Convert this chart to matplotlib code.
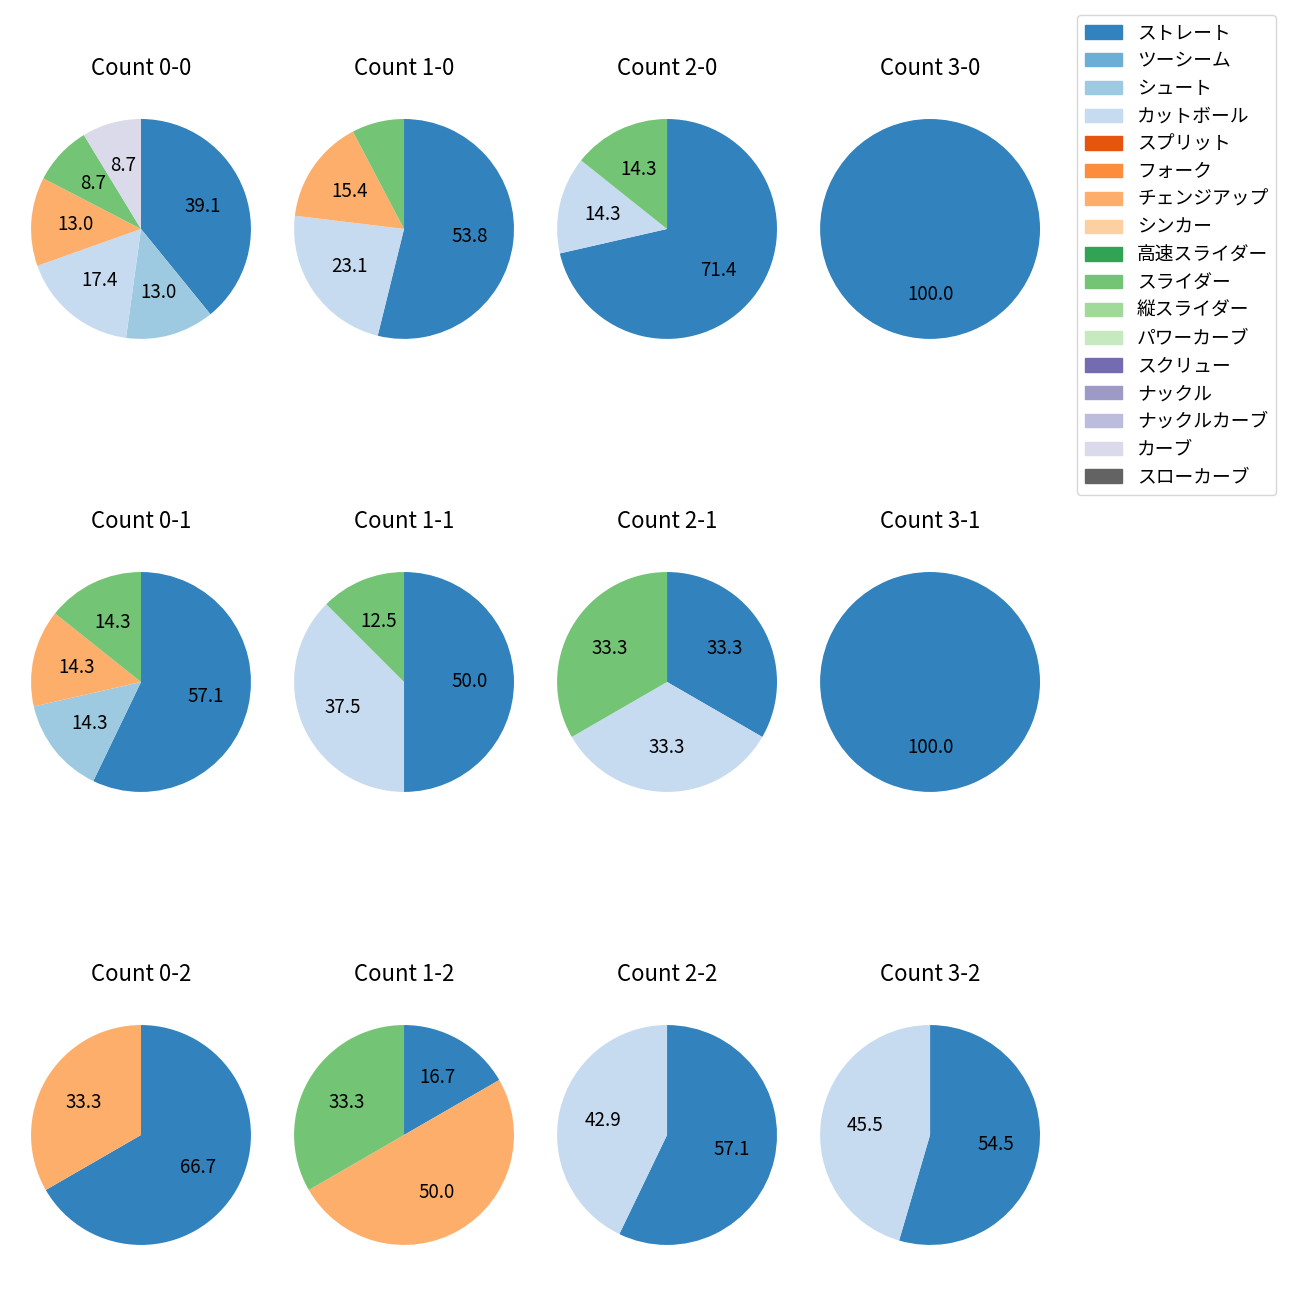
import numpy as np
import matplotlib.pyplot as plt
from matplotlib.patches import Patch

plt.rcParams['font.family'] = ['Noto Sans CJK JP', 'DejaVu Sans']

pitch_types = ['ストレート', 'ツーシーム', 'シュート', 'カットボール', 'スプリット', 'フォーク',
               'チェンジアップ', 'シンカー', '高速スライダー', 'スライダー', '縦スライダー',
               'パワーカーブ', 'スクリュー', 'ナックル', 'ナックルカーブ', 'カーブ', 'スローカーブ']

# pitch counts per ball-strike count, in pitch_types order
counts = {
    '0-0': [9, 0, 3, 4, 0, 0, 3, 0, 0, 2, 0, 0, 0, 0, 0, 2, 0],
    '1-0': [7, 0, 0, 3, 0, 0, 2, 0, 0, 1, 0, 0, 0, 0, 0, 0, 0],
    '2-0': [5, 0, 0, 1, 0, 0, 0, 0, 0, 1, 0, 0, 0, 0, 0, 0, 0],
    '3-0': [1, 0, 0, 0, 0, 0, 0, 0, 0, 0, 0, 0, 0, 0, 0, 0, 0],
    '0-1': [4, 0, 1, 0, 0, 0, 1, 0, 0, 1, 0, 0, 0, 0, 0, 0, 0],
    '1-1': [4, 0, 0, 3, 0, 0, 0, 0, 0, 1, 0, 0, 0, 0, 0, 0, 0],
    '2-1': [1, 0, 0, 1, 0, 0, 0, 0, 0, 1, 0, 0, 0, 0, 0, 0, 0],
    '3-1': [1, 0, 0, 0, 0, 0, 0, 0, 0, 0, 0, 0, 0, 0, 0, 0, 0],
    '0-2': [2, 0, 0, 0, 0, 0, 1, 0, 0, 0, 0, 0, 0, 0, 0, 0, 0],
    '1-2': [1, 0, 0, 0, 0, 0, 3, 0, 0, 2, 0, 0, 0, 0, 0, 0, 0],
    '2-2': [4, 0, 0, 3, 0, 0, 0, 0, 0, 0, 0, 0, 0, 0, 0, 0, 0],
    '3-2': [6, 0, 0, 5, 0, 0, 0, 0, 0, 0, 0, 0, 0, 0, 0, 0, 0],
}
order = ['0-0', '1-0', '2-0', '3-0',
         '0-1', '1-1', '2-1', '3-1',
         '0-2', '1-2', '2-2', '3-2']

colors = plt.get_cmap('tab20c').colors[:len(pitch_types)]

fig, axes = plt.subplots(3, 4, figsize=(13, 13), dpi=100)
fig.subplots_adjust(left=0.0027, right=0.8212, top=0.9296, bottom=0.0212,
                    wspace=-0.0435, hspace=0.648)

for ax, key in zip(axes.flat, order):
    vals = np.array(counts[key])
    idx = np.nonzero(vals)[0]
    ax.pie(vals[idx], colors=[colors[i] for i in idx], startangle=90,
           counterclock=False,
           autopct=lambda p: f'{p:.1f}' if p >= 8 else '',
           textprops={'fontsize': 13.5})
    ax.set_title(f'Count {key}', fontsize=16, pad=12)

handles = [Patch(color=c) for c in colors]
fig.legend(handles, pitch_types, loc='upper left',
           bbox_to_anchor=(1077 / 1300, 1 - 15 / 1300), borderaxespad=0,
           fontsize=13.5, labelspacing=0.36)

fig.savefig('out.png')
